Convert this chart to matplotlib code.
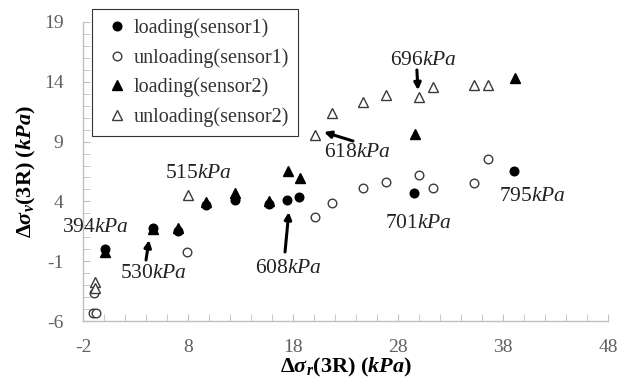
import matplotlib
matplotlib.use("Agg")
import matplotlib.pyplot as plt
from matplotlib.ticker import MultipleLocator

plt.rcParams['font.family'] = ['Liberation Serif', 'DejaVu Serif']
plt.rcParams['mathtext.fontset'] = 'custom'
plt.rcParams['mathtext.rm'] = 'Liberation Serif'
plt.rcParams['mathtext.it'] = 'Liberation Serif:italic'
plt.rcParams['mathtext.bf'] = 'Liberation Serif:bold'
plt.rcParams['mathtext.bfit'] = 'Liberation Serif:italic:bold'
plt.rcParams['axes.unicode_minus'] = False

# ---- data ----
load1_x = [0.1, 4.67, 7.05, 9.71, 12.48, 15.71, 17.43, 18.57, 29.52, 39.05]
load1_y = [0.0, 1.78, 1.53, 3.70, 4.12, 3.78, 4.12, 4.37, 4.70, 6.54]

unload1_x = [-0.95, -1.05, -0.8, 7.9, 20.1, 21.7, 24.67, 26.86, 30.0, 31.33, 35.24, 36.57]
unload1_y = [-3.7, -5.3, -5.3, -0.23, 2.70, 3.87, 5.12, 5.62, 6.21, 5.12, 5.54, 7.55]

load2_x = [0.1, 4.67, 7.05, 9.71, 12.48, 15.71, 17.52, 18.67, 29.62, 39.14]
load2_y = [-0.23, 1.69, 1.78, 3.95, 4.70, 4.03, 6.54, 5.96, 9.64, 14.32]

unload2_x = [-0.9, -0.9, 8.0, 20.1, 21.71, 24.67, 26.86, 30.0, 31.33, 35.24, 36.57]
unload2_y = [-2.7, -3.2, 4.54, 9.55, 11.39, 12.31, 12.90, 12.73, 13.57, 13.73, 13.73]

series_labels = ['loading(sensor1)', 'unloading(sensor1)', 'loading(sensor2)', 'unloading(sensor2)']

ann_labels = ['394', '530', '515', '608', '618', '696', '701', '795']
ann_text_xy = [(-0.86, 1.78), (4.67, -1.99), (8.95, 6.37), (17.6, -1.57),
               (24.1, 8.13), (30.38, 15.74), (29.9, 2.19), (40.76, 4.37)]
ann_arrow_tail = [None, (4.0, -0.9), None, (17.24, -0.23), (23.71, 9.05), (29.8, 14.99), None, None]
ann_arrow_head = [None, (4.29, 0.77), None, (17.6, 3.11), (20.95, 9.8), (29.9, 13.3), None, None]

x_ticks = [-2, 8, 18, 28, 38, 48]
y_ticks = [-6, -1, 4, 9, 14, 19]

fig = plt.figure(figsize=(6.31, 3.86), dpi=100)
ax = fig.add_axes([83/631, 1-321/386, 525/631, 299/386])

ms = 6.2
edge_open = '#3a3a3a'
h1, = ax.plot(load1_x, load1_y, 'o', ms=ms, color='black', ls='none', zorder=3)
h2, = ax.plot(unload1_x, unload1_y, 'o', ms=ms, mfc='white', mec=edge_open, mew=1.0, ls='none', zorder=3)
h3, = ax.plot(load2_x, load2_y, '^', ms=ms+1, color='black', ls='none', zorder=3)
h4, = ax.plot(unload2_x, unload2_y, '^', ms=ms+1, mfc='white', mec=edge_open, mew=1.0, ls='none', zorder=3)

ax.set_xlim(-2, 48)
ax.set_ylim(-6, 19)
ax.set_xticks(x_ticks)
ax.set_yticks(y_ticks)
ax.xaxis.set_minor_locator(MultipleLocator(2))
ax.yaxis.set_minor_locator(MultipleLocator(1))
for s in ['top', 'right']:
    ax.spines[s].set_visible(False)
for s in ['left', 'bottom']:
    ax.spines[s].set_color('#bfbfbf')
    ax.spines[s].set_linewidth(1.0)
ax.tick_params(which='both', direction='in', color='#bfbfbf', labelcolor='#606060', labelsize=14)
ax.tick_params(which='major', length=5)
ax.tick_params(which='minor', length=5)
ax.tick_params(axis='x', pad=13)
ax.tick_params(axis='y', pad=14)

ax.set_xlabel(r'$\mathbf{\Delta}\mathbfit{\sigma}_{\mathbfit{r}}\mathbf{(3R)\ (}\mathbfit{kPa}\mathbf{)}$',
              fontsize=16, labelpad=0)
ax.set_ylabel(r'$\mathbf{\Delta}\mathbfit{\sigma}_{\mathbfit{v}}\mathbf{(3R)\ (}\mathbfit{kPa}\mathbf{)}$',
              fontsize=16, labelpad=4)

for lab, txy, tail, head in zip(ann_labels, ann_text_xy, ann_arrow_tail, ann_arrow_head):
    ax.text(txy[0], txy[1], lab + r'$\mathit{kPa}$', fontsize=15.5, ha='center', va='center',
            color='#222222', zorder=4)
    if tail is not None:
        ax.annotate('', xy=head, xytext=tail,
                    arrowprops=dict(arrowstyle='-|>', color='black', lw=2.2,
                                    mutation_scale=10, shrinkA=0, shrinkB=0), zorder=4)

leg = fig.legend([h1, h2, h3, h4], series_labels, loc='upper left',
                 bbox_to_anchor=(92/631, 1-9/386), frameon=True, fancybox=False,
                 fontsize=14.5, handletextpad=0.0, handlelength=1.6, labelspacing=0.5,
                 borderpad=0.45, borderaxespad=0)
leg.get_frame().set_edgecolor('black')
leg.get_frame().set_linewidth(0.8)
for t in leg.get_texts():
    t.set_color('#333333')

fig.savefig('out.png', dpi=100)
